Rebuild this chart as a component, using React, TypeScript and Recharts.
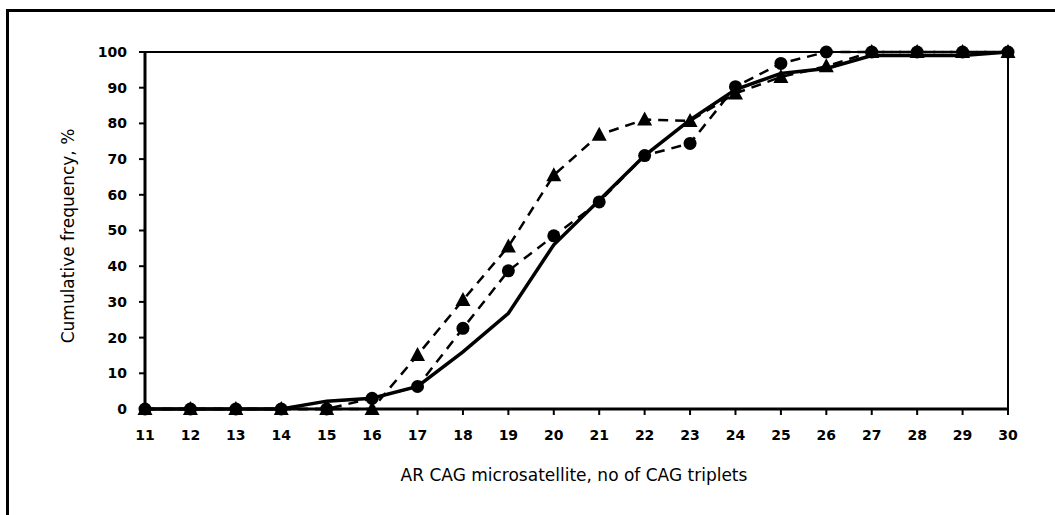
import React from "react";
import {
  Label,
  Line,
  LineChart,
  ReferenceLine,
  XAxis,
  YAxis,
} from "recharts";

// CAG triplet counts on the x axis
const triplets = [
  11, 12, 13, 14, 15, 16, 17, 18, 19, 20, 21, 22, 23, 24, 25, 26, 27, 28, 29, 30,
];

// cumulative frequency, %
const solidSeries = [
  0, 0, 0, 0, 2.2, 3, 6.3, 16, 26.8, 46, 58.5, 71, 81, 89.5, 94, 95.4, 99, 99,
  99, 100,
];
const circleSeries = [
  0, 0, 0, 0, 0, 3, 6.3, 22.6, 38.7, 48.5, 58, 71, 74.4, 90.3, 96.8, 100, 100,
  100, 100, 100,
];
const triangleSeries = [
  0, 0, 0, 0, 0, 0, 15.1, 30.5, 45.5, 65.5, 76.8, 81.1, 80.7, 88.4, 93, 96,
  100, 100, 100, 100,
];

const yTicks = [0, 10, 20, 30, 40, 50, 60, 70, 80, 90, 100];

const data = triplets.map((t, i) => ({
  t,
  solid: solidSeries[i],
  circle: circleSeries[i],
  triangle: triangleSeries[i],
}));

const tickStyle = {
  fontFamily: "DejaVu Sans",
  fontWeight: "bold",
  fontSize: 14,
  fill: "#000",
};

const titleStyle = {
  fontFamily: "DejaVu Sans",
  fontSize: 17,
  fill: "#000",
};

const CircleDot = (props: any) => {
  const { cx, cy } = props;
  if (cx == null || cy == null) return null;
  return <circle cx={cx} cy={cy} r={6.5} fill="#000" />;
};

const TriangleDot = (props: any) => {
  const { cx, cy } = props;
  if (cx == null || cy == null) return null;
  return (
    <polygon
      points={`${cx},${cy - 8} ${cx - 7.5},${cy + 6} ${cx + 7.5},${cy + 6}`}
      fill="#000"
    />
  );
};

const App: React.FC = () => {
  return (
    <div style={{ position: "absolute", left: 0, top: 0, width: 1055, height: 515 }}>
      <div
        style={{
          position: "absolute",
          left: 6,
          top: 9,
          width: 1100,
          height: 600,
          borderLeft: "3px solid #000",
          borderTop: "3px solid #000",
        }}
      />
      <LineChart
        width={1055}
        height={515}
        data={data}
        margin={{ top: 52, right: 47, bottom: 76, left: 85 }}
        style={{ position: "absolute", left: 0, top: 0 }}
      >
        <XAxis
          dataKey="t"
          type="number"
          domain={[11, 30]}
          ticks={triplets}
          interval={0}
          height={30}
          tickSize={6}
          tickMargin={15}
          tick={tickStyle}
          axisLine={{ stroke: "#000", strokeWidth: 3 }}
          tickLine={{ stroke: "#000", strokeWidth: 2 }}
        >
          <Label
            content={() => (
              <text x={574} y={481} textAnchor="middle" style={titleStyle}>
                AR CAG microsatellite, no of CAG triplets
              </text>
            )}
          />
        </XAxis>
        <YAxis
          type="number"
          domain={[0, 100]}
          ticks={yTicks}
          interval={0}
          width={60}
          tickSize={6}
          tickMargin={12}
          tick={tickStyle}
          axisLine={{ stroke: "#000", strokeWidth: 3 }}
          tickLine={{ stroke: "#000", strokeWidth: 2 }}
        >
          <Label
            content={() => (
              <text
                x={68}
                y={236}
                textAnchor="middle"
                dominantBaseline="central"
                transform="rotate(-90 68 236)"
                style={titleStyle}
              >
                Cumulative frequency, %
              </text>
            )}
          />
        </YAxis>
        <ReferenceLine y={100} stroke="#000" strokeWidth={2} />
        <ReferenceLine x={30} stroke="#000" strokeWidth={2} />
        <Line
          type="linear"
          dataKey="solid"
          stroke="#000"
          strokeWidth={3.5}
          dot={false}
          activeDot={false}
          isAnimationActive={false}
        />
        <Line
          type="linear"
          dataKey="circle"
          stroke="#000"
          strokeWidth={2.5}
          strokeDasharray="10 7"
          dot={<CircleDot />}
          activeDot={false}
          isAnimationActive={false}
        />
        <Line
          type="linear"
          dataKey="triangle"
          stroke="#000"
          strokeWidth={2.5}
          strokeDasharray="10 7"
          dot={<TriangleDot />}
          activeDot={false}
          isAnimationActive={false}
        />
      </LineChart>
    </div>
  );
};

export default App;
